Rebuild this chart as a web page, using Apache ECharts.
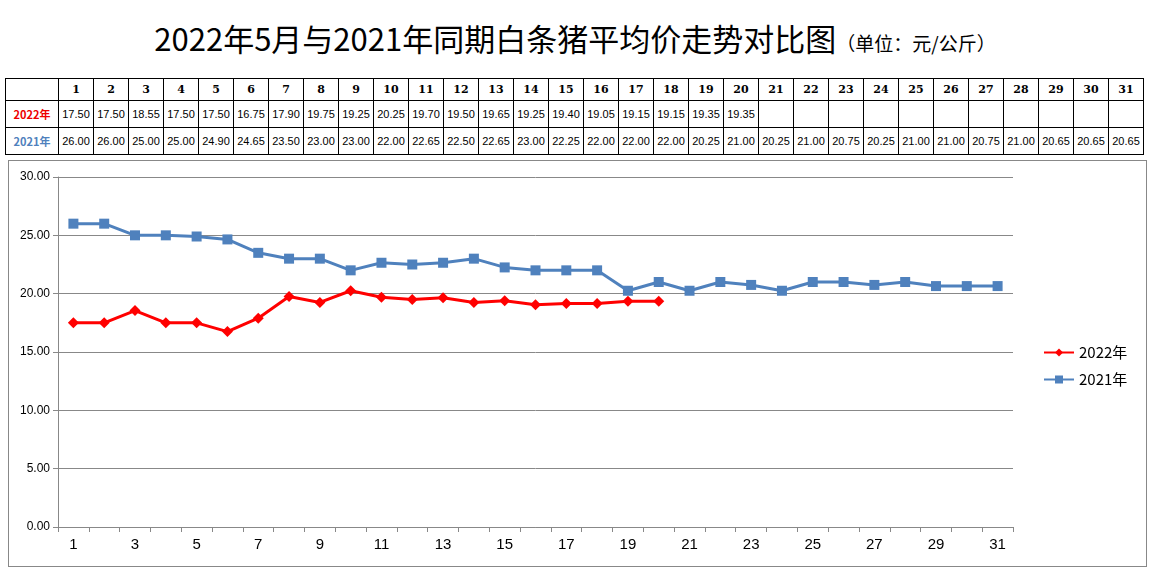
<!DOCTYPE html>
<html><head><meta charset="utf-8">
<script src="https://cdn.jsdelivr.net/npm/echarts@6/dist/echarts.min.js"></script>
<style>
body{margin:0;background:#fff;font-family:"Liberation Sans",Arial,sans-serif;}
#title{position:absolute;left:0;top:15px;width:1150px;text-align:center;font-family:"Noto Sans CJK SC";font-size:31px;color:#000;}
#title small{font-size:19px;}
#tbl{position:absolute;left:5px;top:78px;border-collapse:collapse;table-layout:fixed;}
#tbl td{border:1px solid #000;font-size:11px;text-align:center;padding:0;height:26px;width:34px;overflow:hidden;white-space:nowrap;}
#tbl tr:first-child td{height:21px;font-weight:bold;font-family:"DejaVu Serif",serif;font-size:11px;}
#tbl td.h{width:52px;font-weight:bold;font-family:"Noto Sans CJK SC";font-size:11px;}
#box{position:absolute;left:8px;top:160px;width:1137px;height:405px;border:1px solid #888;}
#c{position:absolute;left:0;top:160px;width:1150px;height:418px;}
</style></head><body>
<div id="title">2022年5月与2021年同期白条猪平均价走势对比图<small>（单位：元/公斤）</small></div>
<table id="tbl"></table>
<div id="box"></div>
<div id="c"></div>
<script>
const days = Array.from({length:31},(_,i)=>String(i+1));
const y2022 = [17.50,17.50,18.55,17.50,17.50,16.75,17.90,19.75,19.25,20.25,19.70,19.50,19.65,19.25,19.40,19.05,19.15,19.15,19.35,19.35];
const y2021 = [26.00,26.00,25.00,25.00,24.90,24.65,23.50,23.00,23.00,22.00,22.65,22.50,22.65,23.00,22.25,22.00,22.00,22.00,20.25,21.00,20.25,21.00,20.75,20.25,21.00,21.00,20.75,21.00,20.65,20.65,20.65];
const yTicks = [0,5,10,15,20,25,30];

const t = document.getElementById('tbl');
let h = '<tr><td class="h"></td>' + days.map(d=>'<td>'+d+'</td>').join('') + '</tr>';
h += '<tr><td class="h" style="color:#e00">2022年</td>' + days.map((d,i)=>'<td>'+(y2022[i]!==undefined?y2022[i].toFixed(2):'')+'</td>').join('') + '</tr>';
h += '<tr><td class="h" style="color:#4f81bd">2021年</td>' + days.map((d,i)=>'<td>'+(y2021[i]!==undefined?y2021[i].toFixed(2):'')+'</td>').join('') + '</tr>';
t.innerHTML = h;

const chart = echarts.init(document.getElementById('c'));
chart.setOption({
  animation:false,
  grid:{left:58,top:17,width:955,height:350},
  legend:{orient:'vertical',left:1038,top:180,itemGap:12,itemWidth:30,itemHeight:10,
    textStyle:{fontSize:15,color:'#000',fontFamily:'Noto Sans CJK SC'},data:['2022年','2021年']},
  xAxis:{type:'category',data:days,boundaryGap:true,
    axisLine:{lineStyle:{color:'#888'}},axisTick:{show:true,interval:0,length:5,lineStyle:{color:'#888'}},
    axisLabel:{interval:1,fontSize:15,color:'#000',margin:10}},
  yAxis:{type:'value',min:0,max:30,interval:5,
    axisLine:{show:true,lineStyle:{color:'#888'}},axisTick:{show:true,length:5,lineStyle:{color:'#888'}},
    splitLine:{lineStyle:{color:'#888'}},
    axisLabel:{fontSize:12,color:'#000',formatter:v=>v.toFixed(2)}},
  series:[
    {name:'2022年',type:'line',data:y2022,symbol:'diamond',symbolSize:11,
      lineStyle:{color:'#ff0000',width:3},itemStyle:{color:'#ff0000'}},
    {name:'2021年',type:'line',data:y2021,symbol:'rect',symbolSize:10,
      lineStyle:{color:'#4f81bd',width:3},itemStyle:{color:'#4f81bd'}}
  ]
});
</script></body></html>
